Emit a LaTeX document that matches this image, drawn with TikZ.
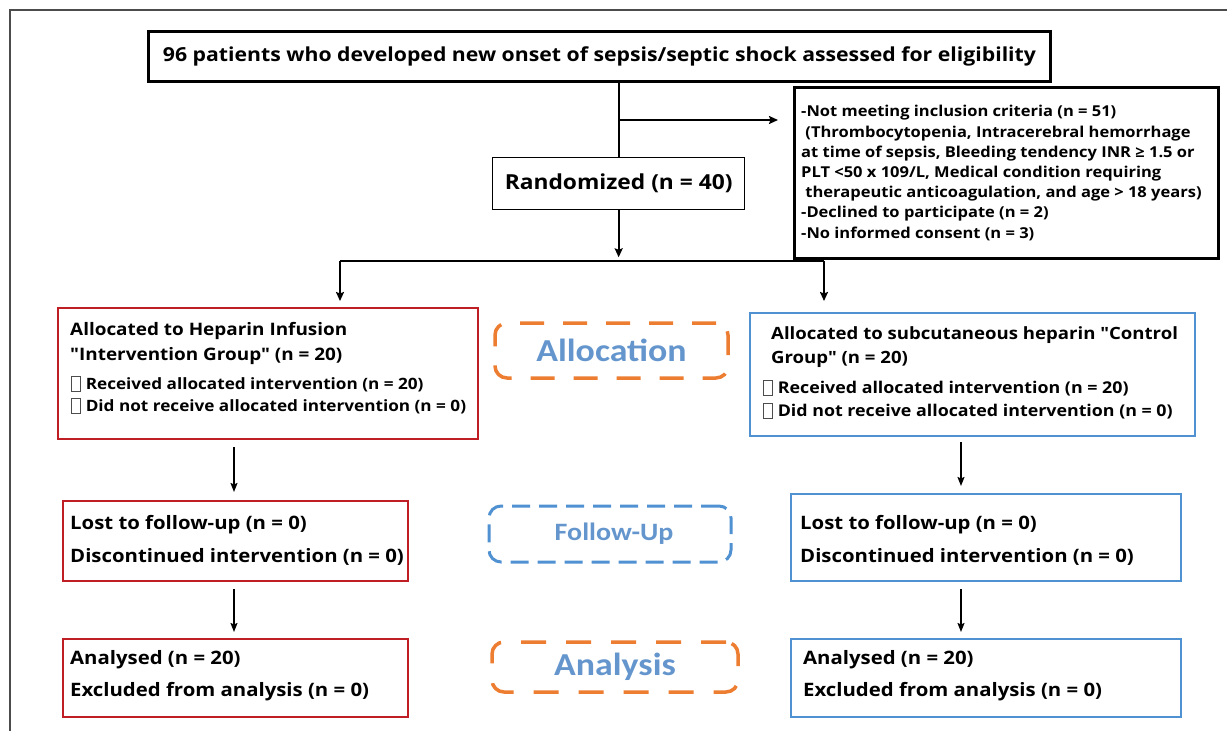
\documentclass[tikz,border=0pt]{standalone}
\usepackage{fontspec}
\setmainfont{Open Sans}[FakeStretch=1.1, Ligatures=TeXOff]
\newfontfamily\lblfont{Carlito}[FakeStretch=1.12]
\usetikzlibrary{arrows.meta,calc}
\definecolor{redc}{RGB}{190,30,36}
\definecolor{bluec}{RGB}{80,145,210}
\definecolor{orangec}{RGB}{237,125,49}
\definecolor{lblblue}{RGB}{100,150,205}
\newcommand\nb{{\setlength\fboxsep{0pt}\setlength\fboxrule{0.8pt}\color{black!70}\raisebox{-2pt}{\fbox{\rule{0pt}{14pt}\rule{8pt}{0pt}}}}\hspace{5pt}}
\tikzset{
  blk/.style={draw=black, line width=3pt, fill=white, inner sep=0pt, anchor=north west},
  thinblk/.style={draw=black, line width=1.3pt, fill=white, inner sep=0pt, anchor=north west},
  redbox/.style={draw=redc, line width=2pt, inner sep=0pt, anchor=north west},
  bluebox/.style={draw=bluec, line width=2pt, inner sep=0pt, anchor=north west},
  lbl/.style={rounded corners=12pt, line width=3.5pt, inner sep=0pt, text=lblblue, font=\lblfont\bfseries},
  ln/.style={anchor=base west, inner sep=0pt, font=\bfseries\fontsize{#1}{#1}\selectfont},
  conn/.style={line width=2pt, draw=black},
  arr/.style={line width=2pt, draw=black, -{Stealth[length=9pt,width=8pt,inset=1.5pt]}},
  arrthin/.style={line width=1.5pt, draw=black, -{Stealth[length=9pt,width=7pt,inset=1.5pt]}},
}
\begin{document}
\begin{tikzpicture}[x=1pt,y=-1pt]
\useasboundingbox (0,0) rectangle (1227,731);
% frame
\draw[line width=1.3pt, draw=black!70] (10,731) -- (10,10) -- (1227,10);
% boxes
\node[blk, minimum width=902pt, minimum height=50pt, font=\bfseries\fontsize{19.3}{19.3}\selectfont] (top) at (147,30) {96 patients who developed new onset of sepsis/septic shock assessed for eligibility};
\node[thinblk, minimum width=252pt, minimum height=52pt, font=\bfseries\fontsize{20.7}{20.7}\selectfont] (rand) at (492,157) {Randomized (n = 40)};
\node[blk, minimum width=424pt, minimum height=171pt] (excl) at (793,86) {};
\node[redbox, minimum width=420pt, minimum height=131pt] (allocL) at (57,307) {};
\node[bluebox, minimum width=445pt, minimum height=123pt] (allocR) at (749,312) {};
\node[redbox, minimum width=345pt, minimum height=80pt] (followL) at (62,500) {};
\node[bluebox, minimum width=390pt, minimum height=87pt] (followR) at (790,493) {};
\node[redbox, minimum width=345pt, minimum height=78pt] (anaL) at (62,638) {};
\node[bluebox, minimum width=390pt, minimum height=78pt] (anaR) at (790,638) {};
% labels
\node[lbl, draw=orangec, dash pattern=on 24pt off 19pt, minimum width=233pt, minimum height=55pt, font=\lblfont\bfseries\fontsize{32}{32}\selectfont] (labAlloc) at (611.5,350.5) {Allocation};
\node[lbl, draw=bluec, line width=3pt, dash pattern=on 18pt off 9pt, minimum width=242pt, minimum height=56pt, font=\lblfont\bfseries\fontsize{25}{25}\selectfont] (labFollow) at (610,534) {\hspace{8pt}\raisebox{4pt}{Follow-Up}};
\node[lbl, draw=orangec, dash pattern=on 25pt off 20pt, minimum width=246pt, minimum height=50pt, font=\lblfont\bfseries\fontsize{32}{32}\selectfont] (labAna) at (615,667) {Analysis};
% exclusion text
\node[ln=15] (e1) at (801,116) {-Not meeting inclusion criteria (n = 51)};
\node[ln=15] (e2) at (801,137) {\ (Thrombocytopenia, Intracerebral hemorrhage};
\node[ln=15] (e3) at (801,157) {at time of sepsis, Bleeding tendency INR ≥ 1.5 or};
\node[ln=15] (e4) at (801,177) {PLT <50 x 109/L, Medical condition requiring};
\node[ln=15] (e5) at (801,197) {\ therapeutic anticoagulation, and age > 18 years)};
\node[ln=15] (e6) at (801,217) {-Declined to participate (n = 2)};
\node[ln=15] (e7) at (801,238) {-No informed consent (n = 3)};
% allocation left
\node[ln=17.2] (aL1) at (70,335) {Allocated to Heparin Infusion};
\node[ln=17.2] (aL2) at (70,360) {"Intervention Group" (n = 20)};
\node[ln=15.6] (aL3) at (71,389) {\nb Received allocated intervention (n = 20)};
\node[ln=15.6] (aL4) at (71,411) {\nb Did not receive allocated intervention (n = 0)};
% allocation right
\node[ln=16.9] (aR1) at (771,339) {Allocated to subcutaneous heparin "Control};
\node[ln=16.9] (aR2) at (771,363) {Group" (n = 20)};
\node[ln=16.2] (aR3) at (763,393) {\nb Received allocated intervention (n = 20)};
\node[ln=16.2] (aR4) at (763,416) {\nb Did not receive allocated intervention (n = 0)};
% follow-up
\node[ln=18.5] (fL1) at (70,529) {Lost to follow-up (n = 0)};
\node[ln=18.5] (fL2) at (70,562) {Discontinued intervention (n = 0)};
\node[ln=18.5] (fR1) at (800,529) {Lost to follow-up (n = 0)};
\node[ln=18.5] (fR2) at (800,562) {Discontinued intervention (n = 0)};
% analysis
\node[ln=18.5] (nL1) at (70,664) {Analysed (n = 20)};
\node[ln=18.5] (nL2) at (70,696) {Excluded from analysis (n = 0)};
\node[ln=18.5] (nR1) at (803,664) {Analysed (n = 20)};
\node[ln=18.5] (nR2) at (803,696) {Excluded from analysis (n = 0)};
% connectors
\draw[conn] (rand.north |- top.south) -- (rand.north);
\coordinate (branch) at ($(rand.north |- top.south)!0.5!(rand.north)$);
\draw[arr, shorten >=15pt] (branch) -- (branch -| excl.west);
\coordinate (split) at ($(rand.south)+(0,52)$);
\draw[arr, shorten >=5pt] (rand.south) -- (split);
\coordinate (splitL) at (340,261);
\coordinate (splitR) at (824,261);
\draw[conn] (splitL) -- (splitR);
\draw[arr, shorten >=6pt] (splitL) -- (splitL |- allocL.north);
\draw[arr, shorten >=11pt] (splitR) -- (splitR |- allocR.north);
\draw[arrthin, shorten <=7pt, shorten >=8pt] ([xshift=-1.5pt]followL.north |- allocL.south) -- ([xshift=-1.5pt]followL.north);
\draw[arrthin, shorten <=5pt, shorten >=7pt] ([xshift=-11.5pt]allocR.south) -- ([xshift=-11.5pt]allocR.south |- followR.north);
\draw[arrthin, shorten <=7pt, shorten >=6pt] ([xshift=-1.5pt]followL.south) -- ([xshift=-1.5pt]anaL.north);
\draw[arrthin, shorten <=7pt, shorten >=6pt] ([xshift=-25pt]followR.south) -- ([xshift=-25pt]anaR.north);
\end{tikzpicture}
\end{document}
